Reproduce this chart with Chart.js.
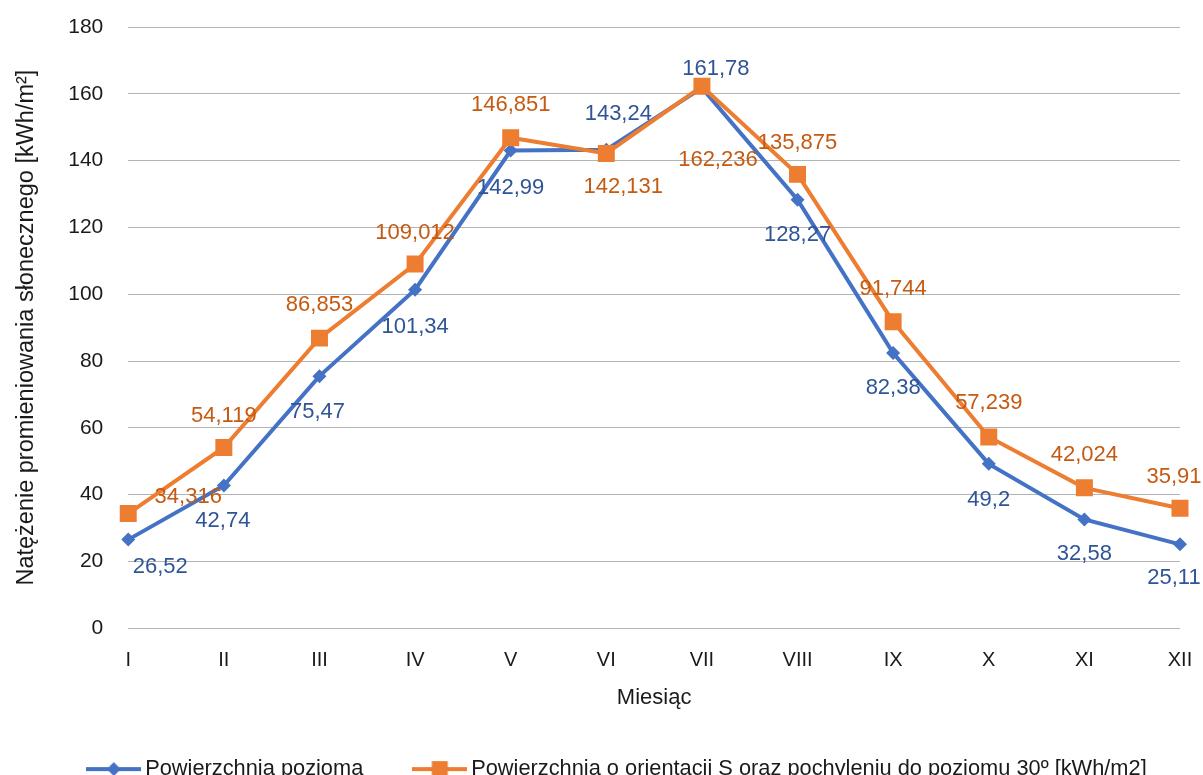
<!DOCTYPE html>
<html>
<head>
<meta charset="utf-8">
<script src="https://cdn.jsdelivr.net/npm/chart.js@4"></script>
<style>
  html, body { margin: 0; padding: 0; background: #fff; overflow: hidden; }
  canvas { display: block; }
</style>
</head>
<body>
<canvas id="chart" width="1203" height="790"></canvas>
<script>
const months = ['I', 'II', 'III', 'IV', 'V', 'VI', 'VII', 'VIII', 'IX', 'X', 'XI', 'XII']
const horizontal = [26.52, 42.74, 75.47, 101.34, 142.99, 143.24, 161.78, 128.27, 82.38, 49.2, 32.58, 25.11]
const tilted = [34.316, 54.119, 86.853, 109.012, 146.851, 142.131, 162.236, 135.875, 91.744, 57.239, 42.024, 35.91]

const horizontalName = 'Powierzchnia pozioma'
const tiltedName = 'Powierzchnia o orientacji S oraz pochyleniu do poziomu 30º [kWh/m2]'

const BLUE = '#4472C4'
const ORANGE = '#ED7D31'
const FONT = "'Liberation Sans', Arial, sans-serif"

// label offsets (px) from each point, as placed in the original
const blueOffsets = [[32, 27], [-1, 35], [-2, 36], [0, 37], [0, 37], [12, -36], [14, -19], [0, 35], [0, 35], [0, 36], [0, 35], [-6, 34]]
const orangeOffsets = [[60, -17], [0, -32], [0, -33], [0, -31], [0, -33], [17, 33], [16, 74], [0, -31], [0, -33], [0, -34], [0, -33], [-6, -31]]

function legendIcon(color, shape) {
  const c = document.createElement('canvas')
  c.width = 55
  c.height = 20
  const ctx = c.getContext('2d')
  ctx.strokeStyle = color
  ctx.lineWidth = 4
  ctx.beginPath()
  ctx.moveTo(0, 10)
  ctx.lineTo(55, 10)
  ctx.stroke()
  ctx.fillStyle = color
  ctx.beginPath()
  if (shape === 'diamond') {
    ctx.moveTo(27.5, 3); ctx.lineTo(34.5, 10); ctx.lineTo(27.5, 17); ctx.lineTo(20.5, 10)
  } else {
    ctx.rect(19.5, 2, 16, 16)
  }
  ctx.closePath()
  ctx.fill()
  return c
}

const pointLabels = {
  id: 'pointLabels',
  afterLayout(chart) {
    // legend in the original sits a bit right of centre
    chart.legend.right += 48
  },
  afterDatasetsDraw(chart) {
    const ctx = chart.ctx
    ctx.save()
    ctx.font = '22px ' + FONT
    ctx.textAlign = 'center'
    ctx.textBaseline = 'middle'
    chart.data.datasets.forEach((ds, di) => {
      const meta = chart.getDatasetMeta(di)
      meta.data.forEach((pt, i) => {
        const [dx, dy] = ds.labelOffsets[i]
        ctx.fillStyle = ds.labelColor
        ctx.fillText(String(ds.data[i]).replace('.', ','), pt.x + dx, pt.y + dy)
      })
    })
    ctx.restore()
  }
}

new Chart(document.getElementById('chart'), {
  type: 'line',
  data: {
    labels: months,
    datasets: [{
        label: horizontalName,
        data: horizontal,
        borderColor: BLUE,
        backgroundColor: BLUE,
        borderWidth: 4,
        pointStyle: 'rectRot',
        pointRadius: 7,
        pointBorderWidth: 0,
        order: 1,
        labelOffsets: blueOffsets,
        labelColor: '#2F5597',
        legendIcon: legendIcon(BLUE, 'diamond'),
      },
      {
        label: tiltedName,
        data: tilted,
        borderColor: ORANGE,
        backgroundColor: ORANGE,
        borderWidth: 4,
        pointStyle: 'rect',
        pointRadius: 12,
        pointBorderWidth: 0,
        order: 0,
        labelOffsets: orangeOffsets,
        labelColor: '#C55A11',
        legendIcon: legendIcon(ORANGE, 'square'),
      }
    ]
  },
  options: {
    responsive: false,
    animation: false,
    devicePixelRatio: 1,
    layout: { padding: { top: 27, right: 23, left: 12, bottom: 0 } },
    scales: {
      x: {
        offset: false,
        grid: { display: true, drawOnChartArea: false, drawTicks: true, tickLength: 18, tickColor: 'rgba(0,0,0,0)' },
        border: { display: false },
        ticks: { color: '#1a1a1a', font: { family: FONT, size: 20, lineHeight: 1 }, padding: 4 },
        title: { display: true, text: 'Miesiąc', color: '#1a1a1a', font: { family: FONT, size: 22, lineHeight: 1 }, padding: { top: 13, bottom: -7 } }
      },
      y: {
        min: 0,
        max: 180,
        ticks: { stepSize: 20, color: '#1a1a1a', font: { family: FONT, size: 21 }, padding: 1 },
        grid: { color: '#b3b3b3', lineWidth: 1, drawTicks: true, tickLength: 24, tickColor: 'rgba(0,0,0,0)' },
        border: { display: false },
        title: { display: true, text: 'Natężenie promieniowania słonecznego [kWh/m²]', color: '#1a1a1a', font: { family: FONT, size: 23.5 }, padding: { top: 0, bottom: 27 } }
      }
    },
    plugins: {
      tooltip: { enabled: false },
      legend: {
        position: 'bottom',
        labels: {
          usePointStyle: true,
          pointStyleWidth: 41,
          padding: 56,
          color: '#1a1a1a',
          font: { family: FONT, size: 21.8 },
          sort: (a, b) => a.datasetIndex - b.datasetIndex,
          generateLabels(chart) {
            return chart.data.datasets.map((ds, i) => ({
              text: ds.label,
              pointStyle: ds.legendIcon,
              fillStyle: ds.borderColor,
              strokeStyle: ds.borderColor,
              lineWidth: 0,
              datasetIndex: i,
              fontColor: '#1a1a1a',
            }))
          }
        }
      }
    }
  },
  plugins: [pointLabels]
})
</script>
</body>
</html>
